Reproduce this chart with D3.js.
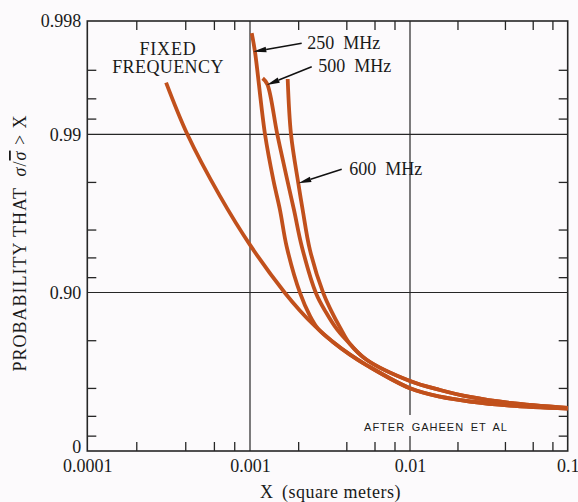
<!DOCTYPE html>
<html>
<head>
<meta charset="utf-8">
<script src="https://cdn.jsdelivr.net/npm/d3@7"></script>
<style>
  html, body { margin: 0; padding: 0; background: #fcfafc; }
  svg { display: block; }
  text { font-family: "Liberation Serif", "Times New Roman", serif; fill: #1a1a1a; }
</style>
</head>
<body>
<svg id="chart" width="578" height="502"></svg>
<script>
// ---------- data ----------
const xMajorTicks = [0.0001, 0.001, 0.01, 0.1];
const xMajorLabels = ["0.0001", "0.001", "0.01", "0.1"];
const xMinorTicks = [0.0002, 0.0004, 0.0006, 0.0008, 0.002, 0.004, 0.006, 0.008, 0.02, 0.04, 0.06, 0.08];
const yMajorTicks = [0, 0.90, 0.99, 0.998];
const yMajorLabels = ["0", "0.90", "0.99", "0.998"];
const yMinorTicks = [0.2, 0.4, 0.6, 0.8, 0.92, 0.94, 0.96, 0.98, 0.992, 0.994, 0.996];
const xGrid = [0.001, 0.01];
const yGrid = [0.90, 0.99];

const seriesNames = ["FIXED FREQUENCY", "250 MHz", "500 MHz", "600 MHz"];

const xFixed = [0.000305, 0.000412, 0.000654, 0.001, 0.001655, 0.002054, 0.00255, 0.0033, 0.004217, 0.00538, 0.01, 0.0155, 0.024, 0.04305, 0.1];
const pFixed = [0.9952, 0.990, 0.9754, 0.950, 0.8993, 0.8698, 0.8368, 0.7948, 0.7535, 0.712, 0.598, 0.5456, 0.5128, 0.4837, 0.4607];

const x250 = [0.001025, 0.001074, 0.001241, 0.0014, 0.00154, 0.001696, 0.002054, 0.002371, 0.002661, 0.0033, 0.004217, 0.00538, 0.01, 0.0155, 0.024, 0.04305, 0.1];
const p250 = [0.99762, 0.99691, 0.990, 0.9805, 0.9699, 0.9486, 0.8993, 0.8593, 0.8306, 0.7948, 0.7535, 0.712, 0.598, 0.5456, 0.5128, 0.4837, 0.4607];

const x500 = [0.0012, 0.001282, 0.001481, 0.00171, 0.001884, 0.002113, 0.002585, 0.002985, 0.0035, 0.004217, 0.00538, 0.01, 0.0155, 0.024, 0.04305, 0.1];
const p500 = [0.99549, 0.9951, 0.990, 0.9805, 0.9699, 0.9483, 0.899, 0.8667, 0.829, 0.7887, 0.7334, 0.6383, 0.5878, 0.5437, 0.5021, 0.4646];

const x600 = [0.00172, 0.001804, 0.002004, 0.002135, 0.002371, 0.002871, 0.003208, 0.003652, 0.004217, 0.00538, 0.01, 0.0155, 0.024, 0.04305, 0.1];
const p600 = [0.99544, 0.990, 0.9796, 0.9699, 0.946, 0.899, 0.8705, 0.834, 0.7887, 0.7334, 0.6383, 0.5878, 0.5437, 0.5021, 0.4646];

// arrow tips (data coords) for the frequency labels
const arrowTipX = [0.001049, 0.001272, 0.002004];
const arrowTipP = [0.99691, 0.99504, 0.9796];
const arrowLabels = ["250  MHz", "500  MHz", "600  MHz"];

// ---------- scales ----------
const svg = d3.select("#chart");
const W = 578, H = 502;
const ink = "#262626";
const curveColor = "#c1501c";
const bg = "#fcfafc";

const x = d3.scaleLog()
  .domain([1e-4, 1e-3, 1e-2, 1e-1])
  .range([87.3, 250, 410, 567.7]);

const tr = p => -Math.log(1 - p);   // exponential-probability paper
const yT = d3.scaleLinear()
  .domain([0, tr(0.90), tr(0.99), tr(0.998)])
  .range([451, 292.5, 134.3, 21]);
const y = p => yT(tr(p));

const x0 = x(1e-4), x1 = x(0.1), yTop = y(0.998), yBot = y(0);

svg.append("rect").attr("width", W).attr("height", H).attr("fill", bg);

// ---------- grid ----------
const g = svg.append("g");
g.selectAll("line.vg").data(xGrid).join("line")
  .attr("x1", d => x(d)).attr("x2", d => x(d))
  .attr("y1", yTop).attr("y2", yBot)
  .attr("stroke", ink).attr("stroke-width", 1.2);
g.selectAll("line.hg").data(yGrid).join("line")
  .attr("x1", x0).attr("x2", x1)
  .attr("y1", d => y(d)).attr("y2", d => y(d))
  .attr("stroke", ink).attr("stroke-width", 1.2);

// ---------- minor ticks via d3 axes (pointing inward) ----------
const yAxisScale = d3.scaleLinear().domain(yT.domain()).range(yT.range());
function styleAxis(sel) {
  sel.select(".domain").remove();
  sel.selectAll(".tick line").attr("stroke", ink).attr("stroke-width", 1.3);
}
svg.append("g").attr("transform", `translate(0,${yBot})`)
  .call(d3.axisBottom(x).tickValues(xMinorTicks).tickSize(-9).tickFormat(""))
  .call(styleAxis);
svg.append("g").attr("transform", `translate(0,${yTop})`)
  .call(d3.axisTop(x).tickValues(xMinorTicks).tickSize(-9).tickFormat(""))
  .call(styleAxis);
svg.append("g").attr("transform", `translate(${x0},0)`)
  .call(d3.axisLeft(yAxisScale).tickValues(yMinorTicks.map(tr)).tickSize(-9).tickFormat(""))
  .call(styleAxis);
svg.append("g").attr("transform", `translate(${x1},0)`)
  .call(d3.axisRight(yAxisScale).tickValues(yMinorTicks.map(tr)).tickSize(-9).tickFormat(""))
  .call(styleAxis);

// ---------- major tick labels ----------
const xl = svg.append("g").attr("transform", `translate(0,${yBot})`)
  .call(d3.axisBottom(x).tickValues(xMajorTicks).tickSize(0).tickPadding(8.5)
    .tickFormat((d, i) => xMajorLabels[i]));
xl.select(".domain").remove();
xl.selectAll("text").attr("font-size", 18).attr("font-family", "Liberation Serif, serif").attr("fill", "#1a1a1a");

const yl = svg.append("g").attr("transform", `translate(${x0},0)`)
  .call(d3.axisLeft(yAxisScale).tickValues(yMajorTicks.map(tr)).tickSize(0).tickPadding(6)
    .tickFormat((d, i) => yMajorLabels[i]));
yl.select(".domain").remove();
yl.selectAll("text").attr("font-size", 18).attr("font-family", "Liberation Serif, serif").attr("fill", "#1a1a1a");
yl.selectAll("text").filter((d, i) => i === 0).attr("y", -4);

// ---------- credit text (breaks the 0.01 grid line) ----------
svg.append("rect").attr("x", 364).attr("y", 415).attr("width", 144).attr("height", 21).attr("fill", bg);
svg.append("text").attr("x", 436).attr("y", 431).attr("text-anchor", "middle")
  .style("font-family", "Liberation Sans, Arial, sans-serif").attr("font-size", 11)
  .attr("letter-spacing", 1.0).attr("word-spacing", 2.5)
  .text("AFTER GAHEEN ET AL");

// ---------- frame ----------
svg.append("rect").attr("x", x0).attr("y", yTop).attr("width", x1 - x0).attr("height", yBot - yTop)
  .attr("fill", "none").attr("stroke", ink).attr("stroke-width", 1.6);

// ---------- curves ----------
const line = d3.line().x(d => x(d[0])).y(d => y(d[1])).curve(d3.curveCatmullRom.alpha(0.5));
const series = [
  [xFixed, pFixed], [x250, p250], [x500, p500], [x600, p600]
].map(([xs, ps], i) => ({ name: seriesNames[i], pts: xs.map((v, j) => [v, ps[j]]) }));

svg.append("g").selectAll("path").data(series).join("path")
  .attr("d", d => line(d.pts))
  .attr("fill", "none").attr("stroke", curveColor)
  .attr("stroke-width", 3.8).attr("stroke-linecap", "butt").attr("stroke-linejoin", "round");

// ---------- annotations ----------
const ann = svg.append("g").attr("font-size", 18);
ann.append("text").attr("x", 168).attr("y", 54.5).attr("text-anchor", "middle").attr("letter-spacing", 0.8).text("FIXED");
ann.append("text").attr("x", 168).attr("y", 73).attr("text-anchor", "middle").attr("letter-spacing", 0.4).text("FREQUENCY");

const labelPos = [[307.3, 49], [318.3, 72.3], [349.3, 175]];
const tailPos = [[301.7, 43.3], [311.7, 66.7], [341.7, 169.3]];
arrowLabels.forEach((lab, i) => {
  ann.append("text").attr("x", labelPos[i][0]).attr("y", labelPos[i][1])
    .style("white-space", "pre").text(lab);
  const tx = x(arrowTipX[i]), ty = y(arrowTipP[i]);
  const [sx, sy] = tailPos[i];
  const ang = Math.atan2(ty - sy, tx - sx);
  const L = 13, Wd = 2.8;
  const bx = tx - L * Math.cos(ang), by = ty - L * Math.sin(ang);
  ann.append("line").attr("x1", sx).attr("y1", sy).attr("x2", bx).attr("y2", by)
    .attr("stroke", "#111").attr("stroke-width", 1.5);
  const px = -Math.sin(ang) * Wd, py = Math.cos(ang) * Wd;
  ann.append("path")
    .attr("d", `M${tx},${ty}L${bx + px},${by + py}L${bx - px},${by - py}Z`)
    .attr("fill", "#111");
});

// ---------- axis titles ----------
const yt = svg.append("text").attr("transform", "translate(26,243) rotate(-90)")
  .attr("text-anchor", "middle").attr("font-size", 18).attr("letter-spacing", 1.0)
  .style("white-space", "pre");
yt.append("tspan").text("PROBABILITY THAT  ");
yt.append("tspan").attr("font-style", "italic").text("σ");
yt.append("tspan").text("/");
yt.append("tspan").attr("font-style", "italic").style("text-decoration", "overline").text("σ");
yt.append("tspan").text(" > X");

const xt = svg.append("text").attr("x", 260).attr("y", 497.5).attr("font-size", 18)
  .style("white-space", "pre");
xt.append("tspan").text("X  ");
xt.append("tspan").attr("letter-spacing", 0.5).text("(square meters)");
</script>
</body>
</html>
